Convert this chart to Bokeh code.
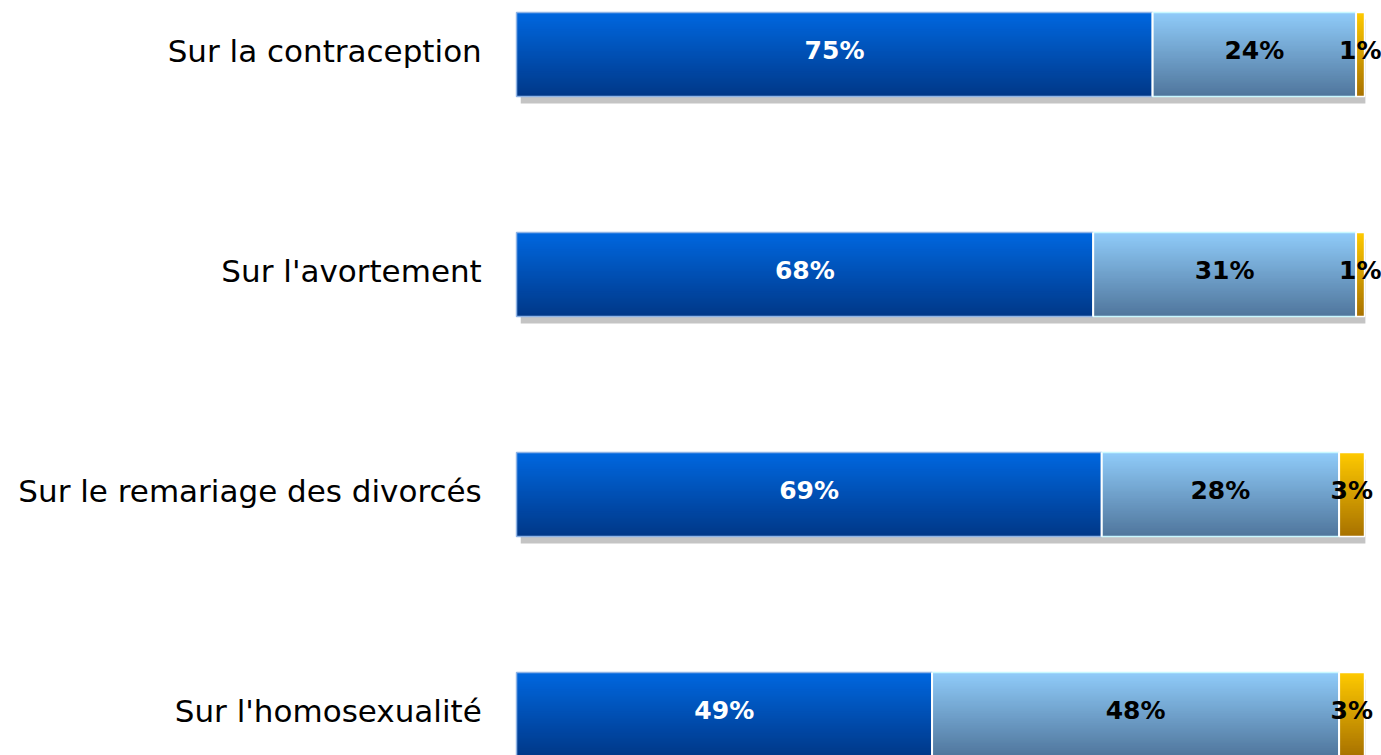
from bokeh.plotting import figure
from bokeh.models import Range1d, ColumnDataSource
from bokeh.embed import file_html
from bokeh.resources import INLINE
from bokeh.core.properties import value

categories = ["Sur la contraception", "Sur l'avortement",
              "Sur le remariage des divorcés", "Sur l'homosexualité"]
serie_a = [75, 68, 69, 49]
serie_b = [24, 31, 28, 48]
serie_c = [1, 1, 3, 3]

series = [serie_a, serie_b, serie_c]
# gradient top/bottom colours per series
grad = [((0x00, 0x68, 0xE0), (0x00, 0x38, 0x88)),
        ((0x90, 0xCC, 0xFA), (0x50, 0x76, 0x9C)),
        ((0xFF, 0xCA, 0x00), (0xA8, 0x72, 0x00))]
label_colors = ["white", "black", "black"]

W, H = 1381, 755
p = figure(width=W, height=H, output_backend="svg", toolbar_location=None,
           x_range=Range1d(-60.85, 102.0), y_range=Range1d(3.186, -0.2455),
           min_border=0)
p.axis.visible = False
p.grid.visible = False
p.outline_line_color = None
p.background_fill_color = "white"

bh = 0.382
n_rows = len(categories)
ys = list(range(n_rows))
ty = [y - 0.018 for y in ys]

# shadows
p.quad(left=[0.5] * n_rows, right=[100.1] * n_rows,
       top=[y - bh / 2 + 0.032 for y in ys], bottom=[y + bh / 2 + 0.032 for y in ys],
       fill_color="#c4c4c4", line_color=None)

NS = 50
for si, s in enumerate(series):
    lefts = [sum(series[k][r] for k in range(si)) for r in range(n_rows)]
    rights = [lefts[r] + s[r] for r in range(n_rows)]
    c0, c1 = grad[si]
    for j in range(NS):
        t = (j + 0.5) / NS
        col = "#%02x%02x%02x" % tuple(int(c0[k] + (c1[k] - c0[k]) * t) for k in range(3))
        tops = [y - bh / 2 + bh * j / NS for y in ys]
        bots = [y + bh / 2 for y in ys]
        p.quad(left=lefts, right=rights, top=tops, bottom=bots,
               fill_color=col, line_color=None)
    # borders
    border = ["#8fb4e6", "#c8f8ff", "#ffffff"][si]
    p.quad(left=lefts, right=rights, top=[y - bh / 2 for y in ys],
           bottom=[y + bh / 2 for y in ys], fill_color=None,
           line_color=border, line_width=1.5)
    # separators (white)
    if si > 0:
        p.segment(x0=lefts, x1=lefts, y0=[y - bh / 2 for y in ys],
                  y1=[y + bh / 2 for y in ys], line_color="white", line_width=2)
    src = ColumnDataSource(dict(x=[(lefts[r] + rights[r]) / 2 for r in range(n_rows)],
                                y=ty, t=["%d%%" % v for v in s]))
    p.text(x="x", y="y", text="t", source=src, text_align="center",
           text_baseline="middle", text_color=label_colors[si],
           text_font=value("DejaVu Sans"), text_font_style="bold",
           text_font_size="25px")

# category labels
p.text(x=[-4.1] * n_rows, y=ty, text=categories, text_align="right",
       text_baseline="middle", text_color="black",
       text_font=value("DejaVu Sans"), text_font_size="31px")

open("out.html", "w").write(file_html(p, INLINE))
